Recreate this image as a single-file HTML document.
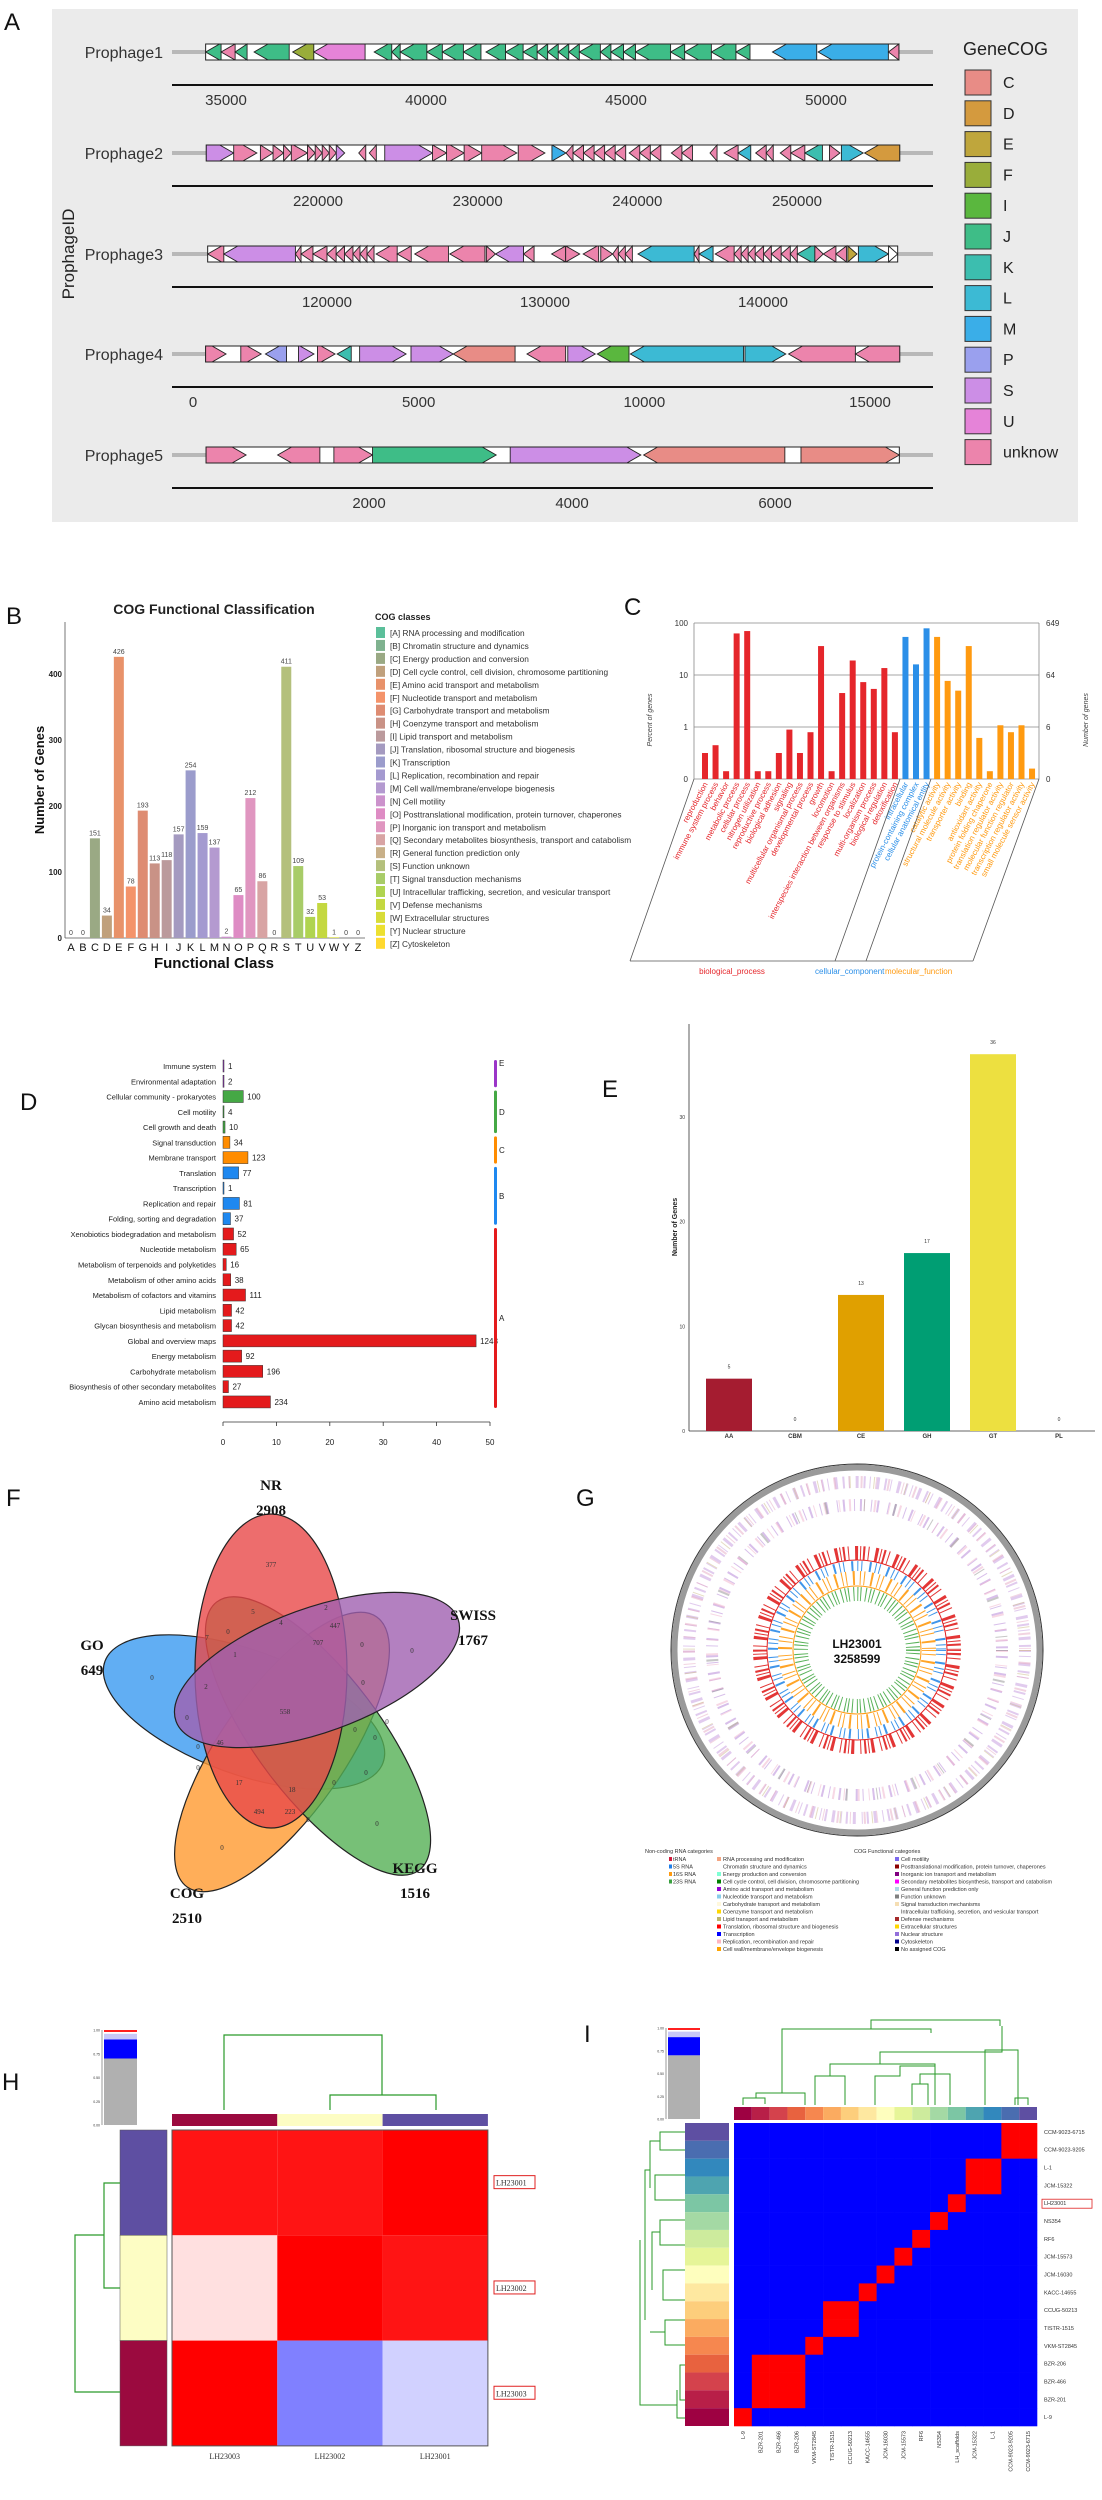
<!DOCTYPE html>
<html><head><meta charset="utf-8">
<style>
html,body{margin:0;padding:0;background:#fff;}
svg{display:block;font-family:"Liberation Sans Narrow","Liberation Sans",sans-serif;}
</style></head>
<body>
<svg id="fig" width="1102" height="2500" viewBox="0 0 1102 2500" xmlns="http://www.w3.org/2000/svg">
  <g id="pA"></g>
  <g id="pB"></g>
  <g id="pC"></g>
  <g id="pD"></g>
  <g id="pE"></g>
  <g id="pF"></g>
  <g id="pG"></g>
  <g id="pH"></g>
  <g id="pI"></g>
</svg>
<script>
// ---------- Panel A data ----------
const cogCodes = ["C","D","E","F","I","J","K","L","M","P","S","U","unknow"];
const cogColors = ["#e88c86","#d49a3e","#bfa63c","#99ad3a","#5ab73e","#3ebd87","#3cbeaf","#3cbad4","#3aaee8","#9aa0ee","#cc8ee6","#e583d8","#ec84ac"];
const prophageNames = ["Prophage1","Prophage2","Prophage3","Prophage4","Prophage5"];
const prophageTicks = [[35000,40000,45000,50000],[220000,230000,240000,250000],[120000,130000,140000],[0,5000,10000,15000],[2000,4000,6000]];
const genesP1 = [[34491,34877,-1,"J"],[34877,35228,-1,"unknow"],[35228,35527,-1,"J"],[35702,36580,-1,"J"],[36668,37195,-1,"F"],[37195,38477,-1,"U"],[38705,39144,-1,"J"],[39144,39355,-1,"J"],[39355,40022,-1,"J"],[40022,40408,-1,"J"],[40408,40935,-1,"J"],[40935,41374,-1,"J"],[41500,41989,-1,"J"],[41989,42428,-1,"J"],[42428,42779,-1,"J"],[42779,43042,-1,"J"],[43042,43306,-1,"J"],[43306,43569,-1,"J"],[43569,43833,-1,"J"],[43833,44359,-1,"J"],[44359,44623,-1,"J"],[44623,44939,-1,"J"],[44939,45237,-1,"J"],[45237,46115,-1,"J"],[46115,46467,-1,"J"],[46467,47134,-1,"J"],[47134,47749,-1,"J"],[47749,48100,-1,"J"],[48662,49768,-1,"M"],[49803,51559,-1,"M"],[51559,51822,-1,"unknow"]];
const genesP2 = [[213004,214720,1,"S"],[214720,216172,1,"unknow"],[216392,217184,1,"unknow"],[217184,217844,1,"unknow"],[217844,218328,1,"unknow"],[218328,219340,1,"unknow"],[219340,219824,1,"unknow"],[219824,220264,1,"unknow"],[220264,220704,1,"unknow"],[220704,221144,1,"unknow"],[221144,221672,1,"S"],[222552,222992,-1,"unknow"],[223212,223652,-1,"unknow"],[224180,227172,1,"S"],[227172,228052,1,"unknow"],[228052,229152,1,"unknow"],[229152,230252,1,"unknow"],[230252,232452,1,"unknow"],[232540,234212,1,"unknow"],[234652,235532,1,"M"],[235532,235972,-1,"unknow"],[235972,236632,-1,"unknow"],[236632,237292,-1,"unknow"],[237292,237952,-1,"unknow"],[237952,238612,-1,"unknow"],[238612,239272,-1,"unknow"],[239492,240152,-1,"unknow"],[240152,240812,-1,"unknow"],[240812,241472,-1,"unknow"],[242132,242792,-1,"unknow"],[242792,243452,-1,"unknow"],[244552,244992,-1,"unknow"],[245432,246312,-1,"unknow"],[246312,247104,-1,"L"],[247412,248072,-1,"unknow"],[248072,248512,-1,"unknow"],[248952,249612,-1,"unknow"],[249612,250492,-1,"unknow"],[250492,251592,-1,"K"],[252032,252692,1,"unknow"],[252780,254144,1,"L"],[254232,256432,-1,"D"]];
const genesP3 = [[114526,115267,-1,"unknow"],[115267,118551,-1,"S"],[118551,118809,-1,"unknow"],[118809,119356,-1,"unknow"],[119356,120000,-1,"unknow"],[120000,120419,-1,"unknow"],[120419,120805,-1,"unknow"],[120805,121191,-1,"unknow"],[121191,121513,-1,"unknow"],[121513,121835,-1,"unknow"],[121835,122157,-1,"unknow"],[122254,123220,-1,"unknow"],[123220,123864,-1,"unknow"],[124025,125571,-1,"unknow"],[125635,127245,-1,"unknow"],[127309,127728,1,"unknow"],[127728,129016,-1,"S"],[129016,129499,-1,"unknow"],[130304,130948,-1,"unknow"],[130948,131592,1,"unknow"],[131753,132461,-1,"unknow"],[132558,133105,1,"unknow"],[133105,133363,-1,"unknow"],[133363,133685,-1,"unknow"],[133685,134007,-1,"unknow"],[134265,136841,-1,"L"],[136841,137066,-1,"unknow"],[137066,137710,-1,"L"],[137807,138676,-1,"unknow"],[138676,138998,-1,"unknow"],[138998,139320,-1,"unknow"],[139320,139642,-1,"unknow"],[139642,140028,-1,"unknow"],[140028,140383,-1,"unknow"],[140383,140833,-1,"unknow"],[140833,141252,-1,"unknow"],[141252,141574,-1,"unknow"],[141574,142379,-1,"K"],[142379,142765,1,"unknow"],[142765,143345,-1,"unknow"],[143345,143828,-1,"unknow"],[143892,144311,1,"E"],[144375,145759,1,"L"],[145759,146178,1,"none"]];
const genesP4 = [[280,732,1,"unknow"],[1059,1511,1,"unknow"],[1605,2072,-1,"P"],[2337,2680,1,"S"],[2758,3147,1,"unknow"],[3194,3506,-1,"K"],[3692,4721,1,"S"],[4830,5765,1,"S"],[5765,7136,-1,"C"],[7400,8257,-1,"unknow"],[8304,8912,1,"S"],[8958,9660,-1,"I"],[9691,12199,-1,"L"],[12230,13134,1,"L"],[13196,14676,-1,"unknow"],[14676,15658,-1,"unknow"]];
const genesP5 = [[395,789,1,"unknow"],[1100,1516,-1,"unknow"],[1654,2035,1,"unknow"],[2035,3253,1,"J"],[3391,4678,1,"S"],[4706,6097,-1,"C"],[6256,7225,1,"C"]];

// ---------- Panel B data ----------
const bLetters = ["A","B","C","D","E","F","G","H","I","J","K","L","M","N","O","P","Q","R","S","T","U","V","W","Y","Z"];
const bValues = [0,0,151,34,426,78,193,113,118,157,254,159,137,2,65,212,86,0,411,109,32,53,1,0,0];
const bTicks = [0,100,200,300,400];
const bColors = ["#5bbf9a","#7fb28f","#9aa984","#c0a07c","#e8926a","#f4936a","#de8c72","#c99286","#bb9a9c","#a49ac0","#9b9ccc","#a49ad0","#b49ad0","#cc92cc","#de8cc4","#e096c0","#d8a4a4","#c8b088","#b4c07c","#a8cc68","#b0d450","#c4d840","#d8dc38","#ece030","#ffd92f"];
const bLegend = ["[A] RNA processing and modification","[B] Chromatin structure and dynamics","[C] Energy production and conversion","[D] Cell cycle control, cell division, chromosome partitioning","[E] Amino acid transport and metabolism","[F] Nucleotide transport and metabolism","[G] Carbohydrate transport and metabolism","[H] Coenzyme transport and metabolism","[I] Lipid transport and metabolism","[J] Translation, ribosomal structure and biogenesis","[K] Transcription","[L] Replication, recombination and repair","[M] Cell wall/membrane/envelope biogenesis","[N] Cell motility","[O] Posttranslational modification, protein turnover, chaperones","[P] Inorganic ion transport and metabolism","[Q] Secondary metabolites biosynthesis, transport and catabolism","[R] General function prediction only","[S] Function unknown","[T] Signal transduction mechanisms","[U] Intracellular trafficking, secretion, and vesicular transport","[V] Defense mechanisms","[W] Extracellular structures","[Y] Nuclear structure","[Z] Cytoskeleton"];

// ---------- Panel C data ----------
const cTerms = ["reproduction","immune system process","behavior","metabolic process","cellular process","nitrogen utilization","reproductive process","biological adhesion","signaling","multicellular organismal process","developmental process","growth","locomotion","interspecies interaction between organisms","response to stimulus","localization","multi-organism process","biological regulation","detoxification","intracellular","protein-containing complex","cellular anatomical entity","catalytic activity","structural molecule activity","transporter activity","binding","antioxidant activity","protein folding chaperone","translation regulator activity","molecular function regulator","transcription regulator activity","small molecule sensor activity"];
const cPercent = [0.5,0.65,0.15,63,70,0.15,0.15,0.5,0.95,0.5,0.9,36,0.15,4.5,19,7.3,5.4,13.6,0.9,54,16,79,54,7.7,5,36,0.79,0.15,1.08,0.9,1.08,0.2];
const cGroup = [0,0,0,0,0,0,0,0,0,0,0,0,0,0,0,0,0,0,0,1,1,1,2,2,2,2,2,2,2,2,2,2];
const cLeftTicks = ["0","1","10","100"];
const cRightTicks = ["0","6","64","649"];

// ---------- Panel D data ----------
const dNames = ["Immune system","Environmental adaptation","Cellular community - prokaryotes","Cell motility","Cell growth and death","Signal transduction","Membrane transport","Translation","Transcription","Replication and repair","Folding, sorting and degradation","Xenobiotics biodegradation and metabolism","Nucleotide metabolism","Metabolism of terpenoids and polyketides","Metabolism of other amino acids","Metabolism of cofactors and vitamins","Lipid metabolism","Glycan biosynthesis and metabolism","Global and overview maps","Energy metabolism","Carbohydrate metabolism","Biosynthesis of other secondary metabolites","Amino acid metabolism"];
const dCounts = [1,2,100,4,10,34,123,77,1,81,37,52,65,16,38,111,42,42,1248,92,196,27,234];
const dGroupOf = ["E","E","D","D","D","C","C","B","B","B","B","A","A","A","A","A","A","A","A","A","A","A","A"];
const dTicks = [0,10,20,30,40,50];

// ---------- Panel E data ----------
const eCats = ["AA","CBM","CE","GH","GT","PL"];
const eValues = [5,0,13,17,36,0];
const eTicks = [0,10,20,30];

// ---------- Panel F data ----------
const vennSets = ["NR","GO","SWISS","KEGG","COG"];
const vennTotals = [2908,649,1767,1516,2510];
const vennCounts = ["377","5","2","0","4","447","7","707","1","0","0","0","2","0","558","0","0","0","0","46","0","0","0","17","18","0","494","223","0","0","0"];

// ---------- Panel H / I data ----------
const hSamples = ["LH23001","LH23002","LH23003"];
const hCols = ["LH23003","LH23002","LH23001"];
const hMatrix = [[0.96,0.96,1.0],[0.56,1.0,0.96],[1.0,0.25,0.41]];
const iRows = ["CCM-9023-6715","CCM-9023-9205","L-1","JCM-15322","LH23001","NS354","RF6","JCM-15573","JCM-16030","KACC-14655","CCUG-50213","TISTR-1515","VKM-ST2845","BZR-206","BZR-466","BZR-201","L-9"];
const iCols = ["L-9","BZR-201","BZR-466","BZR-206","VKM-ST2845","TISTR-1515","CCUG-50213","KACC-14655","JCM-16030","JCM-15573","RF6","NS354","LH_scaffolds","JCM-15322","L-1","CCM-9023-9205","CCM-9023-6715"];
const iClusterRow = [0,0,1,1,2,3,4,5,6,7,8,8,9,10,10,10,11];
const iClusterCol = [11,10,10,10,9,8,8,7,6,5,4,3,2,1,1,0,0];
const iSubRow = [0,0,0,0,0,0,0,0,0,0,0,0,0,1,1,1,2];
const iSubCol = [2,1,1,1,0,0,0,0,0,0,0,0,0,0,0,0,0];

// ---------- helpers ----------
const NS = "http://www.w3.org/2000/svg";
function mk(parent, tag, attrs, text){
  const e = document.createElementNS(NS, tag);
  for (const k in attrs) e.setAttribute(k, attrs[k]);
  if (text !== undefined) e.textContent = text;
  parent.appendChild(e);
  return e;
}
function lin(d0,d1,r0,r1){ return v => r0 + (v-d0)*(r1-r0)/(d1-d0); }

// ================= Panel A =================
(function(){
  const g = document.getElementById('pA');
  let el;
  el = mk(g,'rect',{x:52,y:9,width:1026,height:513,fill:'#ebebeb'});
  
  
  el = mk(g,'text',{x:4,y:30,'font-size':24,fill:'#111'},'A');
  
  
  el = mk(g,'text',{x:0,y:0,'font-size':17,fill:'#222','text-anchor':'middle',transform:'translate(74,254) rotate(-90)','font-family':'Liberation Sans, sans-serif'},'ProphageID');
  
  
  const rowsY = [52,153,254,354,455];
  const scales = [lin(35000,50000,226,826),lin(220000,250000,318,797),lin(120000,140000,327,763),lin(0,15000,193,870),lin(2000,6000,369,775)];
  const all = [genesP1,genesP2,genesP3,genesP4,genesP5];
  for (let r=0;r<5;r++){
    const y = rowsY[r], sx = scales[r], genes = all[r];
    el = mk(g,'text',{x:163,y:y+6,'font-size':16,fill:'#333','text-anchor':'end'},prophageNames[r]);
    
    
    el = mk(g,'line',{x1:172,x2:933,y1:y,y2:y,stroke:'#b8b8b8','stroke-width':4});
    
    
    let lo = Infinity, hi = -Infinity;
    genes.forEach(q=>{lo=Math.min(lo,sx(q[0]));hi=Math.max(hi,sx(q[1]));});
    el = mk(g,'rect',{x:lo,y:y-8,width:hi-lo,height:16,fill:'#fff',stroke:'#222','stroke-width':1});
    
    
    genes.forEach(q=>{
      const x1 = sx(q[0]), x2 = sx(q[1]);
      const w = x2-x1, h = Math.min(w, 14);
      const ci = cogCodes.indexOf(q[3]);
      const fill = ci>=0 ? cogColors[ci] : '#ffffff';
      let pts;
      if (q[2]>0) pts = [[x1,y-8],[x2-h,y-8],[x2,y],[x2-h,y+8],[x1,y+8]];
      else pts = [[x2,y-8],[x1+h,y-8],[x1,y],[x1+h,y+8],[x2,y+8]];
      el = mk(g,'polygon',{points:pts.map(p=>p.join(',')).join(' '),fill:fill,stroke:'#222','stroke-width':0.9});
      
      
    });
    const ay = y+33;
    el = mk(g,'line',{x1:172,x2:933,y1:ay,y2:ay,stroke:'#111','stroke-width':2});
    
    
    prophageTicks[r].forEach(t=>{
      el = mk(g,'text',{x:sx(t),y:ay+20,'font-size':15,fill:'#333','text-anchor':'middle'},String(t));
      
      
    });
  }
  el = mk(g,'text',{x:963,y:55,'font-size':18,fill:'#222'},'GeneCOG');
  
  
  cogCodes.forEach((c,i)=>{
    const yy = 70 + i*30.8;
    el = mk(g,'rect',{x:965,y:yy,width:26,height:25,fill:cogColors[i],stroke:'#333','stroke-width':1});
    
    
    el = mk(g,'text',{x:1003,y:yy+18,'font-size':16,fill:'#222'},c);
    
    
  });
})();

// ================= Panel B =================
(function(){
  const g = document.getElementById('pB');
  let el;
  el = mk(g,'text',{x:6,y:624,'font-size':24,fill:'#111'},'B');
  
  
  el = mk(g,'text',{x:214,y:614,'font-size':14,'font-weight':'bold','text-anchor':'middle',fill:'#222'},'COG Functional Classification');
  
  
  const sy = lin(0,400,938,674);
  const sx = i => 71 + i*11.96;
  el = mk(g,'line',{x1:65,x2:65,y1:622,y2:938,stroke:'#555','stroke-width':0.8});
  
  
  el = mk(g,'line',{x1:65,x2:365,y1:938,y2:938,stroke:'#555','stroke-width':0.8});
  
  
  bTicks.forEach(t=>{
    el = mk(g,'text',{x:62,y:sy(t)+3,'font-size':8,'text-anchor':'end',fill:'#222','font-weight':'bold'},String(t));
    
    
  });
  bValues.forEach((v,i)=>{
    const x = sx(i), y = sy(v);
    el = mk(g,'rect',{x:x-5,y:y,width:10,height:938-y,fill:bColors[i]});
    
    
    el = mk(g,'text',{x:x,y:y-3,'font-size':7,'text-anchor':'middle',fill:'#444'},String(v));
    
    
    el = mk(g,'text',{x:x,y:951,'font-size':11,'text-anchor':'middle',fill:'#111'},bLetters[i]);
    
    
  });
  el = mk(g,'text',{x:214,y:968,'font-size':15,'font-weight':'bold','text-anchor':'middle',fill:'#111'},'Functional Class');
  
  
  el = mk(g,'text',{x:0,y:0,'font-size':13,'font-weight':'bold','text-anchor':'middle',fill:'#111',transform:'translate(44,780) rotate(-90)','font-family':'Liberation Sans, sans-serif'},'Number of Genes');
  
  
  el = mk(g,'text',{x:375,y:620,'font-size':9,'font-weight':'bold',fill:'#222'},'COG classes');
  
  
  bLegend.forEach((t,i)=>{
    const y = 627 + i*12.95;
    el = mk(g,'rect',{x:376,y:y,width:9,height:11,fill:bColors[i]});
    
    
    el = mk(g,'text',{x:390,y:y+9,'font-size':8.3,fill:'#333'},t);
    
    
  });
})();

// ================= Panel C =================
(function(){
  const g = document.getElementById('pC');
  let el;
  const gcol = ['#e5262b','#2b8fe8','#ff9a10'];
  el = mk(g,'text',{x:624,y:615,'font-size':24,fill:'#111'},'C');
  
  
  const sy = v => v<=1 ? 779-52*v : 727-52*Math.log10(v);
  const tickVals = [0,1,10,100];
  tickVals.forEach((t,i)=>{
    el = mk(g,'line',{x1:694,x2:1039,y1:sy(t),y2:sy(t),stroke:'#888','stroke-width':0.8});
    
    
    el = mk(g,'text',{x:688,y:sy(t)+3,'font-size':8,'text-anchor':'end',fill:'#333'},cLeftTicks[i]);
    
    
    el = mk(g,'text',{x:1046,y:sy(t)+3,'font-size':8,fill:'#333'},cRightTicks[i]);
    
    
  });
  el = mk(g,'line',{x1:694,x2:694,y1:623,y2:779,stroke:'#888','stroke-width':0.8});
  
  
  el = mk(g,'line',{x1:1039,x2:1039,y1:623,y2:779,stroke:'#888','stroke-width':0.8});
  
  
  el = mk(g,'text',{x:0,y:0,'font-size':7,'font-style':'italic','text-anchor':'middle',fill:'#444',transform:'translate(652,720) rotate(-90)'},'Percent of genes');
  
  
  el = mk(g,'text',{x:0,y:0,'font-size':7,'font-style':'italic','text-anchor':'middle',fill:'#444',transform:'translate(1088,720) rotate(-90)'},'Number of genes');
  
  
  const sx = i => 705 + i*10.55;
  cPercent.forEach((v,i)=>{
    const x = sx(i), y = sy(v);
    el = mk(g,'rect',{x:x-3,y:y,width:6,height:779-y,fill:gcol[cGroup[i]]});
    
    
    el = mk(g,'text',{x:0,y:0,'font-size':8,'text-anchor':'end',fill:gcol[cGroup[i]],transform:'translate('+(x+3)+',784) rotate(-62)'},cTerms[i]);
    
    
  });
  const lines = [[694,779,630,961],[630,961,973,961],[1039,779,973,961],[900,779,835,961],[931,779,866,961]];
  lines.forEach(l=>{
    el = mk(g,'line',{x1:l[0],y1:l[1],x2:l[2],y2:l[3],stroke:'#555','stroke-width':0.8});
    
    
  });
  [['biological_process',732,'#e5262b'],['cellular_component',815,'#2b8fe8'],['molecular_function',885,'#ff9a10']].forEach(a=>{
    el = mk(g,'text',{x:a[1],y:974,'font-size':8,fill:a[2],'text-anchor':a[1]===732?'middle':'start'},a[0]);
    
    
  });
})();

// ================= Panel D =================
(function(){
  const g = document.getElementById('pD');
  let el;
  const gColors = {E:'#9b35c8',D:'#45a845',C:'#ff8c00',B:'#1e88f0',A:'#e41a1c'};
  el = mk(g,'text',{x:20,y:1110,'font-size':24,fill:'#111'},'D');
  
  
  const sx = lin(0,50,223,490);
  const sy = i => 1066 + i*15.27;
  const total = 2633;
  dCounts.forEach((c,i)=>{
    const y = sy(i);
    const w = sx(c/total*100) - 223;
    el = mk(g,'rect',{x:223,y:y-6,width:Math.max(w,1),height:12,fill:gColors[dGroupOf[i]],stroke:'#333','stroke-width':0.5});
    
    
    el = mk(g,'text',{x:216,y:y+3,'font-size':7.5,'text-anchor':'end',fill:'#222'},dNames[i]);
    
    
    el = mk(g,'text',{x:223+Math.max(w,1)+4,y:y+3,'font-size':8,fill:'#222'},String(c));
    
    
  });
  el = mk(g,'line',{x1:223,x2:490,y1:1422,y2:1422,stroke:'#333','stroke-width':0.8});
  
  
  dTicks.forEach(t=>{
    el = mk(g,'line',{x1:sx(t),x2:sx(t),y1:1422,y2:1426,stroke:'#333','stroke-width':0.8});
    
    
    el = mk(g,'text',{x:sx(t),y:1445,'font-size':8,'text-anchor':'middle',fill:'#222'},String(t));
    
    
  });
  const grp = [['E',0,1],['D',2,4],['C',5,6],['B',7,10],['A',11,22]];
  grp.forEach(a=>{
    const y1 = sy(a[1])-6, y2 = sy(a[2])+6;
    el = mk(g,'rect',{x:494,y:y1,width:3,height:y2-y1,fill:gColors[a[0]],rx:1.5});
    
    
    el = mk(g,'text',{x:499,y:a[0]==='E'?y1+6:(y1+y2)/2+3,'font-size':8,fill:'#222'},a[0]);
    
    
  });
})();

// ================= Panel E =================
(function(){
  const g = document.getElementById('pE');
  let el;
  const colors = ['#a51c30','#888','#e0a000','#009e73','#ede040','#888'];
  el = mk(g,'text',{x:602,y:1097,'font-size':24,fill:'#111'},'E');
  
  
  const sy = lin(0,30,1431,1117);
  const sx = i => 729 + i*66;
  el = mk(g,'line',{x1:689,x2:689,y1:1024,y2:1431,stroke:'#333','stroke-width':0.8});
  
  
  el = mk(g,'line',{x1:689,x2:1095,y1:1431,y2:1431,stroke:'#333','stroke-width':0.8});
  
  
  eTicks.forEach(t=>{
    el = mk(g,'text',{x:685,y:sy(t)+2,'font-size':5,'text-anchor':'end',fill:'#333'},String(t));
    
    
  });
  eValues.forEach((v,i)=>{
    const x = sx(i), y = sy(v);
    el = mk(g,'rect',{x:x-23,y:y,width:46,height:1431-y,fill:colors[i]});
    
    
    el = mk(g,'text',{x:x,y:y-10,'font-size':5,'text-anchor':'middle',fill:'#333'},String(v));
    
    
    el = mk(g,'text',{x:x,y:1438,'font-size':6,'font-weight':'bold','text-anchor':'middle',fill:'#333'},eCats[i]);
    
    
  });
  el = mk(g,'text',{x:0,y:0,'font-size':7,'font-weight':'bold','text-anchor':'middle',fill:'#222',transform:'translate(677,1227) rotate(-90)'},'Number of Genes');
  
  
})();

// ================= Panel F =================
(function(){
  const g = document.getElementById('pF');
  let el;
  el = mk(g,'text',{x:6,y:1506,'font-size':24,fill:'#111'},'F');
  
  
  const ell = [[271,1671,76,157,0,'#e84848'],[244,1712,148,62,20,'#3a9af0'],[317,1670,150,62,-20,'#a060b0'],[318,1736,168,62,53,'#55b055'],[282,1752,165,62,-55,'#ff9a30']];
  const order = [1,4,3,0,2];
  order.forEach(i=>{
    const e = ell[i];
    el = mk(g,'ellipse',{cx:e[0],cy:e[1],rx:e[2],ry:e[3],fill:e[5],'fill-opacity':0.8,stroke:'#222','stroke-width':1.2,transform:'rotate('+e[4]+' '+e[0]+' '+e[1]+')'});
    
    
  });
  const lp = [[271,1485],[92,1645],[473,1615],[415,1868],[187,1893]];
  vennSets.forEach((s,i)=>{
    el = mk(g,'text',{x:lp[i][0],y:lp[i][1]+5,'font-size':15,'font-weight':'bold','text-anchor':'middle',fill:'#111','font-family':'Liberation Serif, serif'},s);
    
    
    el = mk(g,'text',{x:lp[i][0],y:lp[i][1]+30,'font-size':15,'font-weight':'bold','text-anchor':'middle',fill:'#111','font-family':'Liberation Serif, serif'},String(vennTotals[i]));
    
    
  });
  const cp = [[271,1565],[253,1612],[326,1608],[228,1632],[281,1623],[335,1626],[207,1638],[318,1643],[235,1655],[362,1645],[412,1651],[152,1678],[206,1687],[363,1683],[285,1712],[187,1718],[355,1730],[387,1722],[375,1738],[220,1743],[198,1747],[198,1768],[366,1773],[239,1783],[292,1790],[334,1783],[259,1812],[290,1812],[308,1820],[377,1824],[222,1848]];
  vennCounts.forEach((c,i)=>{
    el = mk(g,'text',{x:cp[i][0],y:cp[i][1]+2,'font-size':7,'text-anchor':'middle',fill:'#333','font-family':'Liberation Serif, serif'},c);
    
    
  });
})();

// ================= Panel G =================
(function(){
  const g = document.getElementById('pG');
  let el;
  const cx = 857, cy = 1650;
  el = mk(g,'text',{x:576,y:1506,'font-size':24,fill:'#111'},'G');
  
  
  el = mk(g,'circle',{cx:cx,cy:cy,r:186,fill:'none',stroke:'#333','stroke-width':1});
  
  
  el = mk(g,'circle',{cx:cx,cy:cy,r:182.5,fill:'none',stroke:'#9a9a9a','stroke-width':6});
  
  
  const rings = [[168,12,'#c8a0e0','2 4 1 6 3 5'],[168,12,'#e8b0c8','1 11 2 13'],[168,12,'#d0c090','1 23 1 31'],[145,12,'#b88ad8','1 5 2 9'],[145,12,'#f0b8d0','2 13 1 9'],[145,12,'#999','1 29 2 37']];
  rings.forEach(r=>{
    el = mk(g,'circle',{cx:cx,cy:cy,r:r[0],fill:'none',stroke:r[2],'stroke-width':r[1],'stroke-dasharray':r[3],'stroke-opacity':0.55});
    
    
  });
  const inner = [[97,14,'#e02020','1 2 2 3 1 6 3 2'],[84,10,'#2a8ae8','1 3 1 7 2 4'],[72,14,'#ff9a10','1 3 1 6 2 5'],[56,14,'#45a845','1 2 1 4 1 3']];
  inner.forEach(r=>{
    el = mk(g,'circle',{cx:cx,cy:cy,r:r[0],fill:'none',stroke:r[2],'stroke-width':r[1],'stroke-dasharray':r[3],'stroke-opacity':0.9});
    
    
  });
  [90,64].forEach(r=>{
    el = mk(g,'circle',{cx:cx,cy:cy,r:r,fill:'none',stroke:r===90?'#e02020':'#ff9a10','stroke-width':1});
    
    
  });
  el = mk(g,'text',{x:cx,y:cy-2,'font-size':12,'font-weight':'bold','text-anchor':'middle',fill:'#111'},'LH23001');
  
  
  el = mk(g,'text',{x:cx,y:cy+13,'font-size':12,'font-weight':'bold','text-anchor':'middle',fill:'#111'},'3258599');
  
  
  const head = [['Non-coding RNA categories',645],['COG Functional categories',854]];
  head.forEach(h=>{
    el = mk(g,'text',{x:h[1],y:1853,'font-size':5.5,fill:'#333'},h[0]);
    
    
  });
  const rna = [['tRNA','#d01c3c'],['5S RNA','#1e7ee8'],['16S RNA','#ff9a10'],['23S RNA','#3aa040']];
  rna.forEach((r,i)=>{
    el = mk(g,'rect',{x:669,y:1857+i*7.5,width:3,height:4,fill:r[1]});
    
    
    el = mk(g,'text',{x:673,y:1861+i*7.5,'font-size':5.5,fill:'#333'},r[0]);
    
    
  });
  const c1 = [['RNA processing and modification','#f4a582'],['Chromatin structure and dynamics','#fff'],['Energy production and conversion','#7fffd4'],['Cell cycle control, cell division, chromosome partitioning','#008000'],['Amino acid transport and metabolism','#9400d3'],['Nucleotide transport and metabolism','#87ceeb'],['Carbohydrate transport and metabolism','#fff8dc'],['Coenzyme transport and metabolism','#ffd700'],['Lipid transport and metabolism','#bdb76b'],['Translation, ribosomal structure and biogenesis','#ff0000'],['Transcription','#0000ff'],['Replication, recombination and repair','#ffb6c1'],['Cell wall/membrane/envelope biogenesis','#ffa500']];
  const c2 = [['Cell motility','#7b68ee'],['Posttranslational modification, protein turnover, chaperones','#8b0000'],['Inorganic ion transport and metabolism','#800080'],['Secondary metabolites biosynthesis, transport and catabolism','#ff00ff'],['General function prediction only','#add8e6'],['Function unknown','#808080'],['Signal transduction mechanisms','#f5deb3'],['Intracellular trafficking, secretion, and vesicular transport','#fff'],['Defense mechanisms','#a52a2a'],['Extracellular structures','#ffd700'],['Nuclear structure','#9370db'],['Cytoskeleton','#00008b'],['No assigned COG','#000']];
  [[c1,717],[c2,895]].forEach(col=>{
    col[0].forEach((r,i)=>{
      el = mk(g,'rect',{x:col[1],y:1857+i*7.5,width:4,height:4,fill:r[1]});
      
      
      el = mk(g,'text',{x:col[1]+6,y:1861+i*7.5,'font-size':5.5,fill:'#333'},r[0]);
      
      
    });
  });
})();

// ================= shared stacked bar =================
function aniBar(g,x,y0,y1,w){
  let el;
  const sy = lin(0,1,y1,y0);
  el = mk(g,'rect',{x:x,y:sy(0.7),width:w,height:sy(0)-sy(0.7),fill:'#b0b0b0'});
  
  
  el = mk(g,'rect',{x:x,y:sy(0.9),width:w,height:sy(0.7)-sy(0.9),fill:'#0000ff'});
  
  
  el = mk(g,'rect',{x:x,y:sy(0.96),width:w,height:sy(0.9)-sy(0.96),fill:'#c8c8f8'});
  
  
  el = mk(g,'rect',{x:x,y:sy(1.0),width:w,height:2,fill:'#ff2020'});
  
  
  ['0.00','0.25','0.50','0.75','1.00'].forEach((t,i)=>{
    el = mk(g,'text',{x:x-4,y:sy(i*0.25)+1.5,'font-size':3.5,'text-anchor':'end',fill:'#333'},t);
    
    
  });
  el = mk(g,'line',{x1:x-2,x2:x-2,y1:y0,y2:y1,stroke:'#333','stroke-width':0.5});
  
  
}
function heatColor(v){
  if (v>=0.5){ const t=(v-0.5)/0.5; const c=Math.round(255*(1-t)); return 'rgb(255,'+c+','+c+')'; }
  const t=v/0.5; const c=Math.round(255*t); return 'rgb('+c+','+c+',255)';
}

// ================= Panel H =================
(function(){
  const g = document.getElementById('pH');
  let el;
  el = mk(g,'text',{x:2,y:2090,'font-size':24,fill:'#111'},'H');
  
  
  aniBar(g,104,2030,2125,33);
  const x0=172,y0=2130,cs=105.3;
  hMatrix.forEach((row,r)=>{
    row.forEach((v,c)=>{
      el = mk(g,'rect',{x:x0+c*cs,y:y0+r*cs,width:cs,height:cs,fill:heatColor(v)});
      
      
    });
  });
  el = mk(g,'rect',{x:x0,y:y0,width:cs*3,height:cs*3,fill:'none',stroke:'#555','stroke-width':1});
  
  
  const stripCols = ['#9b0a3f','#fdfdc4','#5e4fa2'];
  stripCols.forEach((c,i)=>{
    el = mk(g,'rect',{x:x0+i*cs,y:2114,width:cs,height:12,fill:c});
    
    
    el = mk(g,'rect',{x:120,y:y0+i*cs,width:47,height:cs,fill:stripCols[2-i],stroke:'#555','stroke-width':0.5});
    
    
  });
  hSamples.forEach((s,i)=>{
    const y = y0+i*cs+cs/2;
    el = mk(g,'rect',{x:494,y:y-7,width:41,height:13,fill:'none',stroke:'#e02020','stroke-width':1});
    
    
    el = mk(g,'text',{x:496,y:y+3,'font-size':8,fill:'#333','font-family':'Liberation Serif, serif'},s);
    
    
  });
  hCols.forEach((s,i)=>{
    el = mk(g,'text',{x:x0+i*cs+cs/2,y:2459,'font-size':8,'text-anchor':'middle',fill:'#333','font-family':'Liberation Serif, serif'},s);
    
    
  });
  const dg = 'M224,2110 V2035 H382 V2095 M330,2110 V2095 H436 V2110 M120,2183 H104 V2288 H120 M104,2235 H75 V2392 H120';
  el = mk(g,'path',{d:dg,fill:'none',stroke:'#2a9a2a','stroke-width':1.2});
  
  
})();

// ================= Panel I =================
(function(){
  const g = document.getElementById('pI');
  let el;
  el = mk(g,'text',{x:584,y:2042,'font-size':24,fill:'#111'},'I');
  
  
  aniBar(g,668,2028,2119,32);
  const n = iRows.length, x0=734, y0=2123, cs=303/17;
  for (let r=0;r<n;r++){
    for (let c=0;c<n;c++){
      let fill = '#0000ff';
      if (iClusterRow[r]===iClusterCol[c]) fill = (iSubRow[r]===2) !== (iSubCol[c]===2) ? '#ff8c8c' : '#ff0000';
      el = mk(g,'rect',{x:x0+c*cs,y:y0+r*cs,width:cs+0.3,height:cs+0.3,fill:fill});
      
      
    }
  }
  const spectral = ['#5e4fa2','#4a6db0','#3288bd','#4ea4b0','#7cc6a4','#a4d9a4','#cdeb9d','#e6f598','#fefebe','#fee8a0','#fdce7c','#fbab60','#f6874f','#e8623f','#d4424c','#b81f48','#9e0142'];
  spectral.forEach((c,i)=>{
    el = mk(g,'rect',{x:685,y:y0+i*cs,width:44,height:cs,fill:c});
    
    
    el = mk(g,'rect',{x:x0+i*cs,y:2107,width:cs,height:13,fill:spectral[16-i]});
    
    
  });
  iRows.forEach((s,i)=>{
    const y = y0+i*cs+cs/2+2;
    el = mk(g,'text',{x:1044,y:y,'font-size':5.5,fill:'#333'},s);
    
    
    if (s==='LH23001'){
      el = mk(g,'rect',{x:1042,y:y-6,width:50,height:9,fill:'none',stroke:'#e02020','stroke-width':0.8});
      
      
    }
  });
  iCols.forEach((s,i)=>{
    const x = x0+i*cs+cs/2+2;
    el = mk(g,'text',{x:0,y:0,'font-size':5.5,'text-anchor':'end',fill:'#333',transform:'translate('+x+',2431) rotate(-90)'},s);
    
    
  });
  const dg = 'M743,2105 V2098 H765 V2104 M756,2098 V2093 H805 V2105 M782,2093 V2029 H931 V2033 M815,2105 V2076 H845 V2105 M830,2076 V2064 H935 V2070 M875,2105 V2076 H900 V2066 H935 V2105 M912,2105 V2084 H928 V2105 M920,2084 V2074 H950 V2105 M880,2064 V2052 H1002 V2026 M985,2105 V2050 H1018 V2105 M1015,2105 V2098 H1028 V2105 M871,2029 V2020 H1000 V2026' +
    ' M685,2132 H660 V2150 H685 M660,2141 H650 V2188 M685,2175 H655 V2200 H685 M650,2170 H645 V2320 M685,2220 H660 V2245 H685 M660,2232 H652 V2290 M685,2270 H663 V2300 H685 M685,2320 H665 V2345 H685 M665,2332 H650 M685,2365 H680 V2400 H685 M685,2418 H677 V2390 M677,2405 H640 V2240';
  el = mk(g,'path',{d:dg,fill:'none',stroke:'#2a9a2a','stroke-width':1});
  
  
})();
</script>
</body></html>
